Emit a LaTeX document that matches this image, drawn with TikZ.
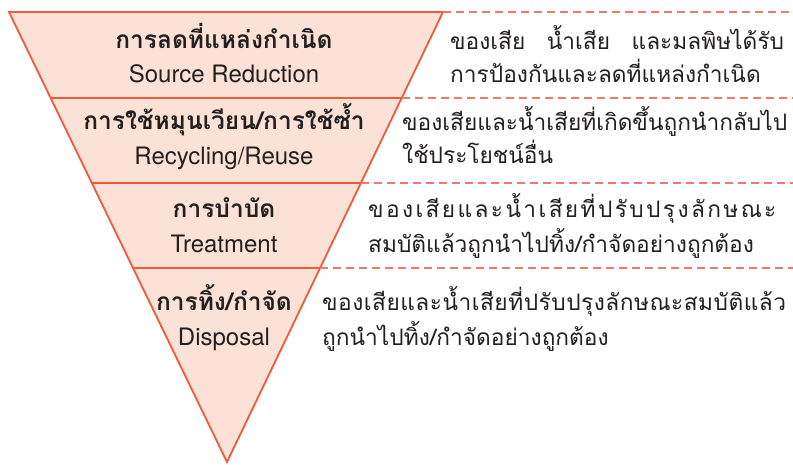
\documentclass[tikz,border=0pt]{standalone}
\usepackage{fontspec}
\setmainfont{TeX Gyre Heros}
\newfontfamily\thai[Script=Thai]{Loma}
\newfontfamily\thaisp[Script=Thai,LetterSpace=10.5]{Loma}
\newfontfamily\thaispb[Script=Thai,LetterSpace=2.2]{Loma}
\usetikzlibrary{calc}
\definecolor{pfill}{HTML}{FCE1D6}
\definecolor{pline}{HTML}{EE5A3C}
\definecolor{pdash}{HTML}{F07A68}
\definecolor{ptext}{HTML}{231F20}
\tikzset{
  tri/.style={fill=pfill,draw=pline,line width=1.8pt,line join=miter},
  sep/.style={draw=pline,line width=1.6pt},
  guide/.style={draw=pdash,line width=1.1pt,dash pattern=on 8pt off 5pt},
  titleth/.style={anchor=base,font=\thai\bfseries\fontsize{24.5}{28}\selectfont,text=ptext,inner sep=0},
  titleen/.style={anchor=base,font=\fontsize{24}{28}\selectfont,text=ptext,inner sep=0},
  desc/.style={anchor=base west,font=\thai\fontsize{22.7}{26}\selectfont,text=ptext,inner sep=0},
}
\begin{document}
\begin{tikzpicture}[x=1pt,y=-1pt]
\useasboundingbox (0,0) rectangle (793,464);
\coordinate (TL) at (9,12);
\coordinate (TR) at (443,12);
\coordinate (B) at (227,462);
\coordinate (E) at (793,12);
\fill[pfill] (TL) -- (TR) -- (B) -- cycle;
% separators
\foreach \t/\n in {0.1911/a,0.38/b,0.5689/c}{
  \coordinate (L\n) at ($(TL)!\t!(B)$);
  \coordinate (R\n) at ($(TR)!\t!(B)$);
  \coordinate (E\n) at (E |- R\n);
}
\draw[sep] (La) -- (Ra);
\draw[sep] (Lb) -- (Rb);
\draw[sep] (Lc) -- (Rc);
\draw[tri,fill=none] (TL) -- (TR) -- (B) -- cycle;
\draw[guide] (TR) -- (E);
\draw[guide] (Ra) -- (Ea);
\draw[guide] (Rb) -- (Eb);
\draw[guide] (Rc) -- (Ec);
% titles
\node[titleth] (t1) at (224,48) {การลดที่แหล่งกำเนิด};
\node[titleen] (e1) at (224,82) {Source Reduction};
\node[titleth] (t2) at (224,129) {การใช้หมุนเวียน/การใช้ซ้ำ};
\node[titleen] (e2) at (224,164) {Recycling/Reuse};
\node[titleth] (t3) at (224,217) {การบำบัด};
\node[titleen] (e3) at (224,252) {Treatment};
\node[titleth] (t4) at (224,310) {การทิ้ง/กำจัด};
\node[titleen] (e4) at (224,345) {Disposal};
% descriptions
\node[desc] (d1a) at (450,49) {ของเสีย\hspace{0.95em}น้ำเสีย\hspace{0.95em}และมลพิษได้รับ};
\node[desc] (d1b) at (450,82) {การป้องกันและลดที่แหล่งกำเนิด};
\node[desc] (d2a) at (402,130) {ของเสียและน้ำเสียที่เกิดขึ้นถูกนำกลับไป};
\node[desc] (d2b) at (402,163) {ใช้ประโยชน์อื่น};
\node[desc,font=\thaisp\fontsize{22.7}{26}\selectfont] (d3a) at (368,217) {ของเสียและน้ำเสียที่ปรับปรุงลักษณะ};
\node[desc] (d3b) at (368,252) {สมบัติแล้วถูกนำไปทิ้ง/กำจัดอย่างถูกต้อง};
\node[desc,font=\thaispb\fontsize{22.7}{26}\selectfont] (d4a) at (322,310) {ของเสียและน้ำเสียที่ปรับปรุงลักษณะสมบัติแล้ว};
\node[desc] (d4b) at (322,345) {ถูกนำไปทิ้ง/กำจัดอย่างถูกต้อง};
\end{tikzpicture}
\end{document}
